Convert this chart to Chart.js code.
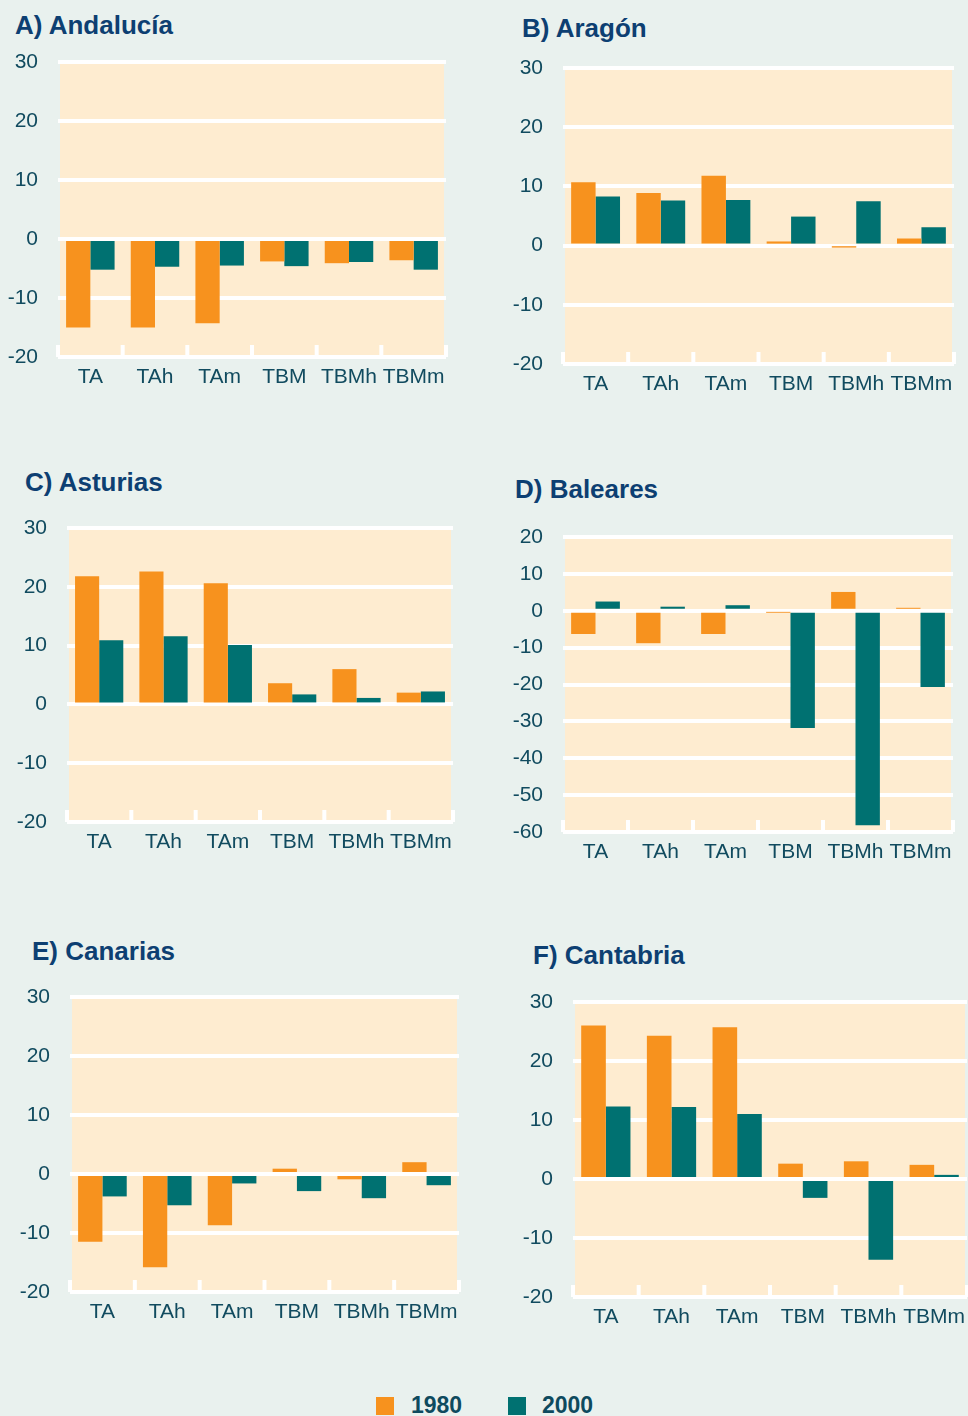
<!DOCTYPE html>
<html>
<head>
<meta charset="utf-8">
<script src="https://cdn.jsdelivr.net/npm/chart.js@4.4.0/dist/chart.umd.min.js"></script>
<style>
  html, body { margin: 0; padding: 0; }
  body {
    width: 968px; height: 1416px; overflow: hidden; position: relative;
    background: #e9f1ee; font-family: 'Liberation Sans', Arial, sans-serif;
  }
  .title {
    position: absolute; font-size: 26px; line-height: 26px; font-weight: bold;
    color: #0d3f72; white-space: nowrap;
  }
  canvas { position: absolute; }
  .legend-box { position: absolute; width: 18px; height: 18px; top: 1397px; }
  .legend-text {
    position: absolute; top: 1394px; font-size: 23px; line-height: 23px;
    font-weight: bold; color: #0e4a5e;
  }
</style>
</head>
<body>

<script>
// ── data ────────────────────────────────────
const categories = ['TA', 'TAh', 'TAm', 'TBM', 'TBMh', 'TBMm'];

const andalucia1980 = [-15.0, -15.0, -14.3, -3.8, -4.1, -3.6];
const andalucia2000 = [-5.2, -4.7, -4.5, -4.6, -3.9, -5.2];

const aragon1980 = [10.7, 8.9, 11.8, 0.7, -0.1, 1.2];
const aragon2000 = [8.3, 7.6, 7.7, 4.9, 7.5, 3.1];

const asturias1980 = [21.8, 22.6, 20.6, 3.6, 6.0, 2.0];
const asturias2000 = [10.9, 11.6, 10.1, 1.7, 1.1, 2.2];

const baleares1980 = [-6.3, -8.8, -6.3, -0.3, 5.1, 0.8];
const baleares2000 = [2.5, 1.1, 1.5, -31.8, -58.2, -20.7];

const canarias1980 = [-11.5, -15.8, -8.7, 0.9, -0.9, 2.0];
const canarias2000 = [-3.8, -5.3, -1.6, -2.9, -4.1, -1.9];

const cantabria1980 = [26.0, 24.3, 25.7, 2.6, 3.0, 2.4];
const cantabria2000 = [12.3, 12.2, 11.0, -3.2, -13.7, 0.7];

const yRangeDefault = [-20, 30];
const yRangeBaleares = [-60, 20];

const seriesLabels = ['1980', '2000'];

// ── styling ─────────────────────────────────
const COLOR_1980 = '#f7921e';
const COLOR_2000 = '#007171';
const PLOT_BG = '#feecd0';
const TEXT = '#114b5f';
const FONT = "'Liberation Sans', Arial, sans-serif";

const Y_AXIS_W = 50;
const X_AXIS_H = 42;
const PAD_TOP = 34;   // must exceed half label height + tick padding
const PAD_RIGHT = 8;

// beige plot area
const plotBackground = {
  id: 'plotBackground',
  beforeDraw(chart) {
    const { ctx, chartArea: a } = chart;
    ctx.save();
    ctx.fillStyle = PLOT_BG;
    ctx.fillRect(a.left + 2, a.top, a.right - a.left - 4, a.bottom - a.top);
    ctx.restore();
  },
};

// short white ticks pointing up from the bottom axis, between categories
const innerTicks = {
  id: 'innerTicks',
  afterDatasetsDraw(chart) {
    const { ctx, chartArea: a } = chart;
    const x = chart.scales.x;
    const n = x.ticks.length;
    ctx.save();
    ctx.strokeStyle = '#ffffff';
    ctx.lineWidth = 4;
    for (let i = 0; i <= n; i++) {
      const px = x.getPixelForValue(i - 0.5);
      ctx.beginPath();
      ctx.moveTo(px, a.bottom);
      ctx.lineTo(px, a.bottom - 12);
      ctx.stroke();
    }
    ctx.restore();
  },
};

function makePanel(title, titlePos, box, v1980, v2000, yRange) {
  const t = document.createElement('div');
  t.className = 'title';
  t.textContent = title;
  t.style.left = titlePos[0] + 'px';
  t.style.top = titlePos[1] + 'px';
  document.body.appendChild(t);

  const [left, right, top, bottom] = box;
  const canvas = document.createElement('canvas');
  const w = Y_AXIS_W + (right - left) + PAD_RIGHT;
  const h = PAD_TOP + (bottom - top) + X_AXIS_H;
  canvas.width = w;
  canvas.height = h;
  canvas.style.width = w + 'px';
  canvas.style.height = h + 'px';
  canvas.style.left = (left - Y_AXIS_W) + 'px';
  canvas.style.top = (top - PAD_TOP) + 'px';
  document.body.appendChild(canvas);

  return new Chart(canvas.getContext('2d'), {
    type: 'bar',
    data: {
      labels: categories,
      datasets: [
        { label: seriesLabels[0], data: v1980, backgroundColor: COLOR_1980 },
        { label: seriesLabels[1], data: v2000, backgroundColor: COLOR_2000 },
      ],
    },
    options: {
      responsive: false,
      animation: false,
      devicePixelRatio: 1,
      layout: { padding: { top: PAD_TOP, right: PAD_RIGHT, left: 0, bottom: 0 } },
      datasets: { bar: { categoryPercentage: 0.75, barPercentage: 1.0, borderWidth: 0 } },
      plugins: { legend: { display: false }, tooltip: { enabled: false } },
      scales: {
        x: {
          grid: { display: false },
          border: { display: false },
          ticks: { color: TEXT, padding: 0, maxRotation: 0, autoSkip: false, font: { family: FONT, size: 21 } },
          afterFit(s) { s.height = X_AXIS_H; },
        },
        y: {
          min: yRange[0],
          max: yRange[1],
          grid: { color: '#ffffff', lineWidth: 4, drawTicks: false },
          border: { display: false },
          ticks: { stepSize: 10, color: TEXT, padding: 20, font: { family: FONT, size: 21 } },
          afterFit(s) { s.width = Y_AXIS_W; },
        },
      },
    },
    plugins: [plotBackground, innerTicks],
  });
}

makePanel('A) Andalucía', [15, 12],  [58, 446, 62, 357],    andalucia1980, andalucia2000, yRangeDefault);
makePanel('B) Aragón',    [522, 15], [563, 954, 68, 364],   aragon1980, aragon2000, yRangeDefault);
makePanel('C) Asturias',  [25, 469], [67, 453, 528, 822],   asturias1980, asturias2000, yRangeDefault);
makePanel('D) Baleares',  [515, 476],[563, 953, 537, 832],  baleares1980, baleares2000, yRangeBaleares);
makePanel('E) Canarias',  [32, 938], [70, 459, 997, 1292],  canarias1980, canarias2000, yRangeDefault);
makePanel('F) Cantabria', [533, 942],[573, 967, 1002, 1297], cantabria1980, cantabria2000, yRangeDefault);

// legend
[[376, 411, COLOR_1980, seriesLabels[0]], [508, 542, COLOR_2000, seriesLabels[1]]].forEach(([bx, tx, c, label]) => {
  const b = document.createElement('div');
  b.className = 'legend-box';
  b.style.left = bx + 'px';
  b.style.background = c;
  document.body.appendChild(b);
  const t = document.createElement('div');
  t.className = 'legend-text';
  t.style.left = tx + 'px';
  t.textContent = label;
  document.body.appendChild(t);
});
</script>
</body>
</html>
